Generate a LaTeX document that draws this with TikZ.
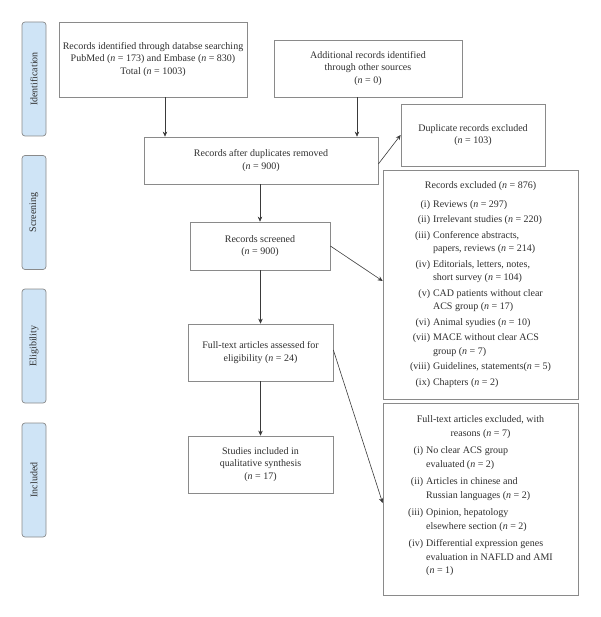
\documentclass[tikz,border=0pt]{standalone}
\usepackage{fontspec}
\setmainfont{Liberation Serif}
\usetikzlibrary{arrows.meta,calc}
\definecolor{boxgray}{HTML}{8A8A8A}
\definecolor{sidefill}{HTML}{CFE4F6}
\definecolor{txt}{HTML}{2E2E2E}
\definecolor{linec}{HTML}{3A3A3A}
\begin{document}
\begin{tikzpicture}[x=1pt,y=-1pt,
  every node/.style={text=txt, font=\fontsize{10}{12.8}\selectfont},
  fbox/.style={draw=boxgray, line width=0.7pt, align=center, inner sep=0pt},
  side/.style={draw=boxgray, fill=sidefill, line width=0.7pt, rounded corners=3pt,
     minimum width=114pt, minimum height=24pt, rotate=90, inner sep=0pt},
  arr/.style={draw=linec, line width=0.6pt, -{Stealth[length=5pt,width=4.5pt]}}]
\useasboundingbox (0,0) rectangle (600,617);

% side labels
\node[side] (sid) at (34,79) {Identification};
\node[side] (sscr) at (34,212.5) {Screening};
\node[side] (selg) at (34,346) {Eligibility};
\node[side] (sinc) at (34,480) {Included};

% main boxes
\node[fbox, minimum width=188pt, minimum height=75pt] (b1) at (153,59.5)
  {Records identified through databse searching\\
   PubMed (\textit{n} = 173) and Embase (\textit{n} = 830)\\
   Total (\textit{n} = 1003)};
\node[fbox, minimum width=188pt, minimum height=57pt] (b2) at (368,68.5)
  {Additional records identified\\ through other sources\\ (\textit{n} = 0)};
\node[fbox, minimum width=234pt, minimum height=47pt] (b3) at (261,160.5)
  {Records after duplicates removed\\ (\textit{n} = 900)};
\node[fbox, minimum width=144pt, minimum height=62pt] (dup) at (473,135)
  {Duplicate records excluded\\ (\textit{n} = 103)};
\node[fbox, minimum width=140pt, minimum height=48pt] (b4) at (260,246)
  {Records screened\\ (\textit{n} = 900)};
\node[fbox, minimum width=145pt, minimum height=57pt] (b5) at (260.5,352.5)
  {Full-text articles assessed for\\ eligibility (\textit{n} = 24)};
\node[fbox, minimum width=145pt, minimum height=57pt] (b6) at (260.5,464.5)
  {Studies included in\\ qualitative synthesis\\ (\textit{n} = 17)};

% exclusion boxes
\node[fbox, minimum width=195pt, minimum height=229pt,
  font=\fontsize{10}{13.5}\selectfont] (ex1) at (480.5,284.5)
  {\begin{tabular}{@{}r@{\hspace{3pt}}l@{}}
   \multicolumn{2}{c}{Records excluded (\textit{n} = 876)}\\[5pt]
   (i) & Reviews (\textit{n} = 297)\\[2pt]
   (ii) & Irrelevant studies (\textit{n} = 220)\\[2pt]
   (iii) & Conference abstracts,\\
         & papers, reviews (\textit{n} = 214)\\[2pt]
   (iv) & Editorials, letters, notes,\\
        & short survey (\textit{n} = 104)\\[2pt]
   (v) & CAD patients without clear\\
       & ACS group (\textit{n} = 17)\\[2pt]
   (vi) & Animal syudies (\textit{n} = 10)\\[2pt]
   (vii) & MACE without clear ACS\\
         & group (\textit{n} = 7)\\[2pt]
   (viii) & Guidelines, statements(\textit{n} = 5)\\[2pt]
   (ix) & Chapters (\textit{n} = 2)
   \end{tabular}};
\node[fbox, minimum width=195pt, minimum height=192pt,
  font=\fontsize{10}{13.5}\selectfont] (ex2) at (480.5,499)
  {\begin{tabular}{@{}r@{\hspace{3pt}}l@{}}
   \multicolumn{2}{c}{Full-text articles excluded, with}\\
   \multicolumn{2}{c}{reasons (\textit{n} = 7)}\\[4pt]
   (i) & No clear ACS group\\
       & evaluated (\textit{n} = 2)\\[4pt]
   (ii) & Articles in chinese and\\
        & Russian languages (\textit{n} = 2)\\[4pt]
   (iii) & Opinion, hepatology\\
         & elsewhere section (\textit{n} = 2)\\[4pt]
   (iv) & Differential expression genes\\
        & evaluation in NAFLD and AMI\\
        & (\textit{n} = 1)
   \end{tabular}\\[6pt]};

% connectors
\draw[arr] ([xshift=12pt]b1.south) -- ([xshift=12pt]b1.south |- b3.north);
\draw[arr] ([xshift=-11pt]b2.south) -- ([xshift=-11pt]b2.south |- b3.north);
\draw[arr] ([yshift=-3.5pt]b3.east) -- (dup.west);
\draw[arr] (b3.south -| b4.north) -- (b4.north);
\draw[arr] (b4.east) -- ([yshift=3.5pt]ex1.west);
\draw[arr] (b4.south -| b5.north) -- (b5.north);
\draw[arr] ([yshift=2.5pt]b5.east) -- ([yshift=-4pt]ex2.west);
\draw[arr] (b5.south) -- (b6.north);
\end{tikzpicture}
\end{document}
